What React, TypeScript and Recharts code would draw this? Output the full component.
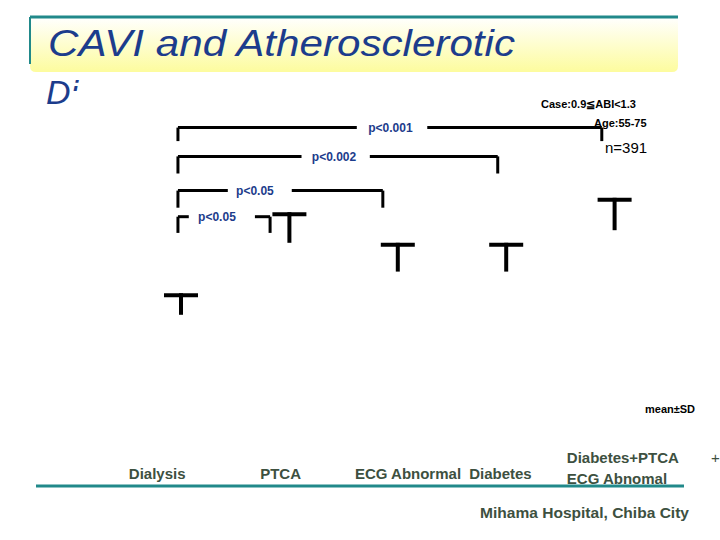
import { Bar, BarChart, ReferenceDot, ReferenceLine, XAxis, YAxis } from 'recharts'

const groups = ['Dialysis', 'PTCA', 'ECG Abnormal', 'Diabetes', 'Diabetes+PTCA\nECG Abnomal']
const means = [7.9, 11.9, 10.3, 10.3, 12.6]
const sds = [1.2, 1.7, 1.6, 1.6, 1.8]

// significance brackets, in data units (x = group index)
const pLabels = ['p<0.001', 'p<0.002', 'p<0.05', 'p<0.05']
const pLevels = [18.3, 16.7, 14.8, 13.35]
const pDrops = [17.55, 15.75, 13.85, 12.45]
const pStart = [-0.03, -0.03, -0.03, -0.03]
const pEnd = [3.88, 2.92, 1.86, 0.82]
const pGapFrom = [1.62, 1.11, 0.43, 0.07]
const pGapTo = [2.27, 1.74, 1.02, 0.68]
const pTextAt = [1.93, 1.41, 0.68, 0.33]

const data = groups.map((name, i) => ({
  x: i,
  name,
  range: [means[i], means[i] + sds[i]],
}))

const labelColor = '#3d5040'
const blue = '#1c3c8c'
const teal = '#21898a'
const sans = 'Liberation Sans, Arial, sans-serif'

function TShape(props: any) {
  const { x, y, width, height } = props
  const cx = x + width / 2
  return (
    <g>
      <line x1={x} x2={x + width} y1={y + 2} y2={y + 2} stroke='#000' strokeWidth={4} />
      <line x1={cx} x2={cx} y1={y} y2={y + height} stroke='#000' strokeWidth={4} />
    </g>
  )
}

const tickShift = [-24, -9, 10, -6, -48]

function GroupTick(props: any) {
  const { x, payload } = props
  const i = payload.value
  const lines = groups[i].split('\n')
  const style = { fontFamily: sans, fontSize: 15, fontWeight: 700, fill: labelColor }
  if (lines.length > 1) {
    return (
      <g>
        <text x={x + tickShift[i]} y={463} textAnchor='start' {...style}>{lines[0]}</text>
        <text x={x + tickShift[i]} y={484} textAnchor='start' {...style}>{lines[1]}</text>
      </g>
    )
  }
  return (
    <text x={x + tickShift[i]} y={479} textAnchor='middle' {...style}>{lines[0]}</text>
  )
}

function seg(x1: number, y1: number, x2: number, y2: number, key: string) {
  return (
    <ReferenceLine
      key={key}
      segment={[{ x: x1, y: y1 }, { x: x2, y: y2 }]}
      stroke='#000'
      strokeWidth={3}
      ifOverflow='visible'
    />
  )
}

export default function App() {
  const brackets = pLabels.flatMap((_, i) => [
    seg(pStart[i], pDrops[i], pStart[i], pLevels[i], `l${i}`),
    seg(pStart[i], pLevels[i], pGapFrom[i], pLevels[i], `a${i}`),
    seg(pGapTo[i], pLevels[i], pEnd[i], pLevels[i], `b${i}`),
    seg(pEnd[i], pLevels[i], pEnd[i], pDrops[i], `r${i}`),
  ])
  const small = { fontFamily: sans, fontWeight: 700 }
  return (
    <div style={{ position: 'absolute', left: 0, top: 0, width: 720, height: 540, background: '#fff' }}>
      <svg width={720} height={540} style={{ position: 'absolute', left: 0, top: 0 }}>
        <defs>
          <linearGradient id='titleBg' x1='0' y1='0' x2='0' y2='1'>
            <stop offset='0%' stopColor='#ffffff' />
            <stop offset='100%' stopColor='#fdfc9e' />
          </linearGradient>
          <clipPath id='diClip'>
            <rect x={40} y={70} width={30} height={40} />
            <rect x={70} y={70} width={20} height={21} />
          </clipPath>
        </defs>
        <path d='M30 17 H678 V66 Q678 72 672 72 H36 Q30 72 30 66 Z' fill='url(#titleBg)' />
        <line x1={30} x2={678} y1={17} y2={17} stroke={teal} strokeWidth={3} />
        <line x1={30} x2={30} y1={17} y2={64} stroke={teal} strokeWidth={2} />
        <text x={48} y={56} fill={blue} fontSize={36} fontStyle='italic' fontFamily={sans} textLength={467} lengthAdjust='spacingAndGlyphs'>
          CAVI and Atherosclerotic
        </text>
        <text x={46} y={104} fill={blue} fontSize={34} fontStyle='italic' fontFamily={sans} clipPath='url(#diClip)'>Di</text>
        <line x1={36} x2={684} y1={486} y2={486} stroke={teal} strokeWidth={3} />
        <text x={541} y={108} fontSize={11} {...small} fill='#000'>Case:0.9≦ABI&lt;1.3</text>
        <text x={594} y={127} fontSize={11} {...small} fill='#000'>Age:55-75</text>
        <text x={605} y={153} fontSize={15} fontFamily={sans} fill='#000'>n=391</text>
        <text x={645} y={413} fontSize={11} {...small} fill='#000'>mean±SD</text>
        <text x={480} y={518} fontSize={15} fontWeight={700} fontFamily={sans} fill={labelColor} textLength={209} lengthAdjust='spacingAndGlyphs'>Mihama Hospital, Chiba City</text>
        <text x={711} y={463} fontSize={15} fontFamily={sans} fill={labelColor}>+</text>
      </svg>
      <div style={{ position: 'absolute', left: 0, top: 0 }}>
        <BarChart width={720} height={540} data={data} margin={{ top: 97, right: 51, bottom: 43, left: 127 }}>
          <XAxis
            dataKey='x'
            type='number'
            domain={[-0.5, 4.5]}
            ticks={[0, 1, 2, 3, 4]}
            height={40}
            axisLine={false}
            tickLine={false}
            tick={<GroupTick />}
            interval={0}
          />
          <YAxis hide type='number' domain={[0, 20]} />
          <Bar dataKey='range' barSize={34} shape={<TShape />} isAnimationActive={false} />
          {brackets}
          {pLabels.map((p, i) => (
            <ReferenceDot
              key={`t${i}`}
              x={pTextAt[i]}
              y={pLevels[i]}
              r={0}
              fill='none'
              stroke='none'
              ifOverflow='visible'
              label={{ value: p, position: 'center', fill: blue, fontSize: 12, fontWeight: 700, fontFamily: sans }}
            />
          ))}
        </BarChart>
      </div>
    </div>
  )
}
